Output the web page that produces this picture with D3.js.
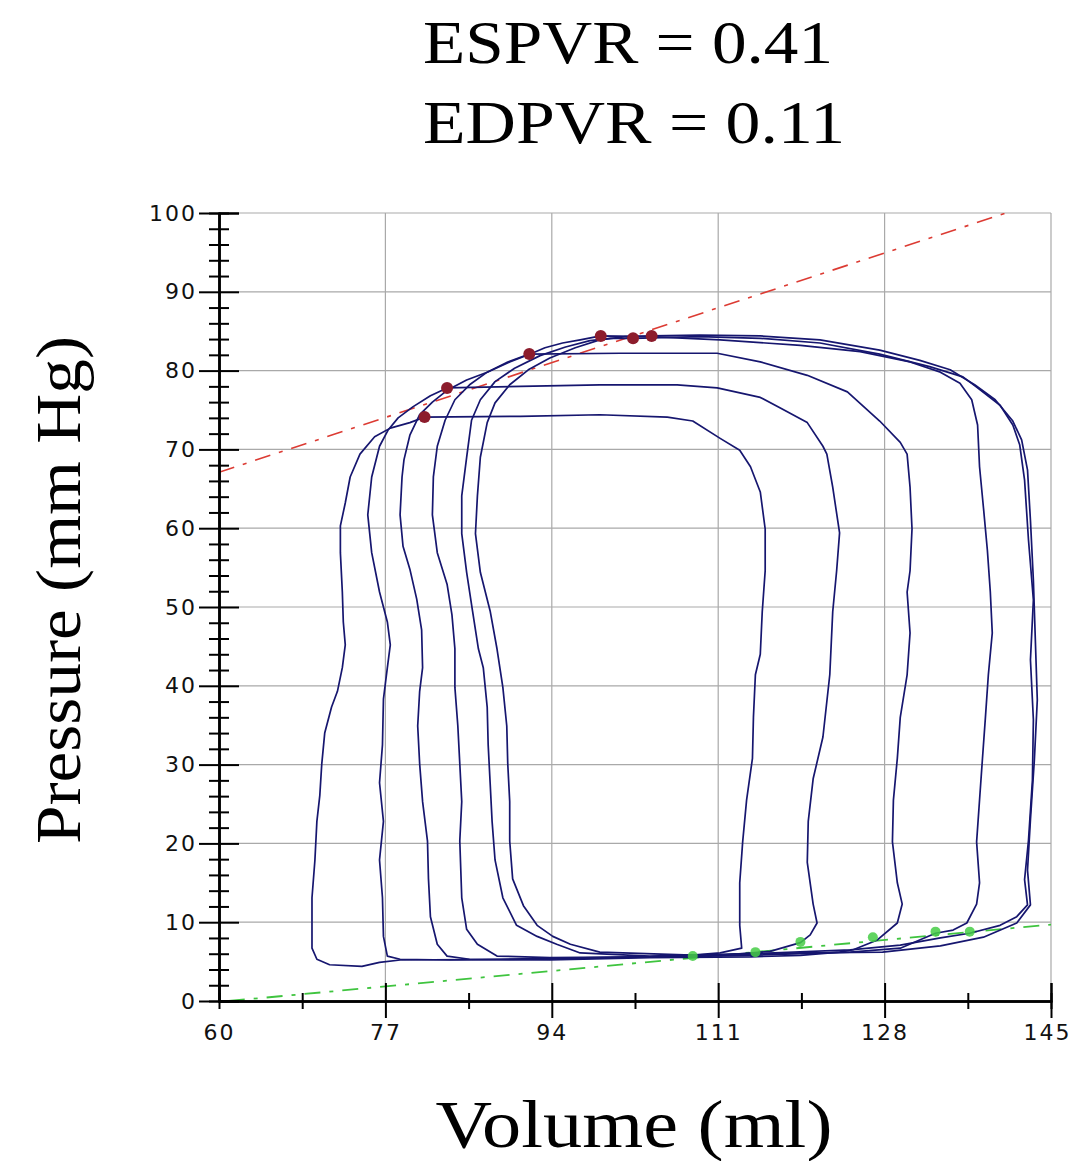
<!DOCTYPE html>
<html>
<head>
<meta charset="utf-8">
<script src="https://cdn.jsdelivr.net/npm/d3@7"></script>
<style>
body { margin: 0; background: #fff; }
svg { display: block; }
</style>
</head>
<body>
<div id="chart"></div>
<script>
// PV loops, [volume (ml), pressure (mm Hg)], traced counter-clockwise from bottom-left
const loop1 = [[70.0,5.3],[71.3,4.6],[74.6,4.4],[76.4,4.9],[78.5,5.2],[88.7,5.3],[98.9,5.5],[107.1,5.7],[111.2,6.1],[113.4,6.7],
  [113.2,9.6],[113.2,15.0],[113.5,20.2],[113.9,25.5],[114.5,30.8],[114.6,36.0],[114.8,41.4],[115.3,44.0],[115.5,49.4],[115.8,54.6],
  [115.8,59.9],[115.3,64.6],[114.3,67.8],[113.2,69.9],[111.2,71.4],[108.4,73.6],[105.8,74.1],[98.9,74.4],[90.8,74.2],[81.0,74.1],
  [79.5,73.4],[77.5,72.7],[75.9,71.6],[74.4,69.4],[73.4,66.5],[72.9,63.2],[72.4,60.3],[72.4,56.9],[72.6,51.9],[72.7,48.1],
  [72.9,45.2],[72.6,42.3],[72.1,39.3],[71.5,37.3],[70.8,34.0],[70.5,30.1],[70.3,26.1],[70.0,22.8],[69.8,17.9],[69.5,13.1],[69.5,6.7]];

const loop2 = [[77.2,5.7],[78.5,5.3],[83.6,5.2],[93.8,5.3],[104.0,5.6],[111.2,5.8],[116.3,6.3],[119.4,7.4],
  [120.4,8.4],[121.1,9.9],[120.7,12.3],[120.1,17.6],[120.2,22.8],[120.7,28.2],[121.7,33.5],[122.4,41.4],[122.7,49.4],[123.1,54.6],
  [123.4,59.4],[122.7,65.2],[122.1,69.4],[121.7,70.4],[120.1,73.4],[117.3,75.3],[115.3,76.6],[110.9,77.8],[106.8,78.2],[98.9,78.2],
  [90.8,78.0],[83.3,77.8],[81.6,76.8],[79.8,75.4],[78.3,74.0],[77.3,72.5],[76.4,70.4],[75.6,66.5],[75.2,61.7],[75.6,56.9],
  [76.4,51.9],[77.2,48.1],[77.5,45.2],[77.2,42.3],[76.8,38.3],[76.7,32.5],[76.4,27.7],[76.8,22.8],[76.4,17.9],[76.7,13.1],[76.8,8.2]];

const loop3 = [[82.3,7.2],[83.3,5.7],[85.6,5.3],[93.8,5.2],[104.0,5.5],[114.3,5.6],[119.4,5.8],[123.4,6.2],[124.8,6.5],[127.2,7.7],
  [129.3,9.9],[129.8,12.3],[129.3,15.0],[128.8,20.2],[128.9,25.5],[129.3,30.8],[129.6,36.0],[130.3,41.4],[130.6,46.7],[130.3,51.9],
  [130.6,54.6],[130.8,59.9],[130.6,65.2],[130.3,69.4],[129.6,70.9],[127.5,73.6],[124.2,77.3],[120.1,79.4],[115.3,81.1],[110.9,82.2],
  [101.0,82.2],[91.7,82.1],[89.5,81.1],[87.4,79.8],[85.3,78.8],[83.3,77.5],[81.8,76.0],[80.5,74.4],[79.5,71.8],[78.9,68.7],
  [78.7,66.5],[78.5,61.7],[78.8,57.7],[79.5,54.8],[80.2,51.0],[80.7,47.1],[80.8,42.3],[80.5,39.3],[80.3,34.9],[80.5,30.1],
  [80.8,25.3],[81.3,20.3],[81.4,15.5],[81.6,10.7]];

const loop4 = [[86.4,7.2],[88.4,5.7],[93.8,5.5],[104.0,5.6],[114.3,5.8],[124.5,6.2],[129.6,6.7],[133.2,8.6],
  [135.0,9.0],[136.4,9.9],[137.4,12.3],[137.7,15.0],[137.4,20.2],[137.7,25.5],[138.0,30.8],[138.3,36.0],[138.6,41.4],[139.0,46.7],
  [138.8,51.9],[138.5,57.2],[138.1,62.6],[137.7,67.8],[137.5,73.1],[136.9,76.3],[135.7,78.4],[133.7,79.8],[130.6,81.1],[125.5,82.4],
  [119.4,83.2],[111.2,83.9],[104.0,84.3],[99.0,84.4],[96.9,83.9],[95.1,83.5],[93.3,82.9],[91.8,82.1],[89.7,81.1],[87.4,79.8],
  [85.6,78.2],[84.1,76.3],[83.1,73.7],[82.3,70.4],[81.9,66.5],[81.8,61.7],[82.3,56.9],[83.3,52.9],[83.8,49.0],[84.1,44.7],
  [84.1,39.8],[84.4,34.9],[84.6,30.1],[84.8,25.3],[84.6,20.3],[84.8,13.1],[85.3,9.1]];

const loop5 = [[92.5,8.2],[94.5,7.2],[96.9,6.1],[104.0,5.7],[114.3,6.0],[124.5,6.5],[129.6,7.1],[133.7,8.0],[136.7,8.6],[139.8,9.6],
  [141.5,10.7],[142.6,12.2],[142.3,15.4],[142.7,20.4],[143.1,28.0],[143.2,35.7],[142.9,43.3],[143.2,50.9],[142.7,58.5],[142.3,66.1],
  [141.8,70.6],[141.1,73.1],[139.8,75.6],[137.4,77.9],[136.0,79.2],[132.6,80.5],[127.5,82.1],[121.4,83.5],[115.3,84.1],[109.1,84.3],
  [102.3,84.1],[100.0,84.1],[97.9,83.8],[95.4,83.0],[92.8,81.9],[90.2,80.3],[88.2,78.6],[86.7,76.3],[85.8,73.7],[85.3,69.0],
  [84.8,64.1],[84.8,59.3],[85.3,54.4],[85.9,49.5],[86.5,44.7],[87.0,42.3],[87.4,37.3],[87.5,32.5],[87.7,27.7],[87.9,22.8],
  [88.2,17.9],[89.0,13.1],[90.4,9.6]];

const loop6 = [[94.1,8.2],[95.9,7.2],[98.9,6.2],[109.1,5.8],[119.4,6.1],[127.8,6.2],[133.7,7.0],[138.1,8.1],[141.5,9.9],[142.9,12.2],
  [142.6,16.6],[142.9,23.0],[143.3,30.6],[143.6,38.2],[143.4,45.8],[143.2,53.4],[142.9,61.0],[142.6,67.4],[142.0,71.2],[141.1,73.6],
  [139.3,76.3],[137.2,78.2],[134.7,80.1],[131.6,81.3],[127.5,82.6],[121.4,83.9],[115.3,84.4],[109.1,84.5],[104.2,84.4],[101.5,84.3],
  [98.9,83.9],[96.4,82.9],[93.8,81.6],[91.6,80.1],[89.7,78.2],[88.2,75.9],[87.4,73.4],[86.7,69.0],[86.4,64.1],[86.2,59.3],
  [86.7,54.4],[87.7,49.5],[88.4,44.7],[89.0,39.8],[89.4,34.9],[89.5,30.1],[89.7,25.3],[89.7,20.3],[90.0,15.5],[91.1,12.1],[92.5,9.6]];

const loops = [loop1, loop2, loop3, loop4, loop5, loop6];

// end-systolic and end-diastolic points
const esPoints = [[81.0,74.1],[83.3,77.8],[91.7,82.1],[99.0,84.4],[102.3,84.1],[104.2,84.4]];
const edPoints = [[108.4,5.7],[114.8,6.2],[119.4,7.5],[126.8,8.1],[133.2,8.8],[136.7,8.8]];

// fitted relations (end points of the dashed lines)
const espvrLine = [[60,67.1],[140.4,100]];
const edpvrLine = [[61,0],[145,9.7]];

const xTicks = [60, 77, 94, 111, 128, 145];
const xMinor = [68.5, 85.5, 102.5, 119.5, 136.5];
const yTicks = [0, 10, 20, 30, 40, 50, 60, 70, 80, 90, 100];
const yMinor = d3.range(2, 100, 2).filter(v => v % 10 !== 0);

const titleLines = ["ESPVR = 0.41", "EDPVR = 0.11"];
const xLabel = "Volume (ml)";
const yLabel = "Pressure (mm Hg)";

const W = 1072, H = 1161;
const x = d3.scaleLinear().domain([60, 145]).range([219, 1051]);
const y = d3.scaleLinear().domain([0, 100]).range([1001, 213]);

const svg = d3.select("#chart").append("svg")
  .attr("width", W).attr("height", H);

svg.append("rect").attr("width", W).attr("height", H).attr("fill", "#fff");

svg.append("clipPath").attr("id", "plot")
  .append("rect")
  .attr("x", x(60)).attr("y", y(100))
  .attr("width", x(145) - x(60)).attr("height", y(0) - y(100));

// grid
const grid = svg.append("g").attr("stroke", "#a9a9a9").attr("stroke-width", 1.2);
grid.selectAll(".gx").data(xTicks.slice(1)).join("line")
  .attr("x1", d => x(d)).attr("x2", d => x(d))
  .attr("y1", y(100)).attr("y2", y(0));
grid.selectAll(".gy").data(yTicks.slice(1)).join("line")
  .attr("x1", x(60)).attr("x2", x(145))
  .attr("y1", d => y(d)).attr("y2", d => y(d));

// dashed ESPVR / EDPVR lines
const line = d3.line().x(d => x(d[0])).y(d => y(d[1]));
svg.append("path").datum(espvrLine)
  .attr("clip-path", "url(#plot)")
  .attr("d", line).attr("fill", "none")
  .attr("stroke", "#dc3b33").attr("stroke-width", 1.6)
  .attr("stroke-dasharray", "16,9,4,9");
svg.append("path").datum(edpvrLine)
  .attr("clip-path", "url(#plot)")
  .attr("d", line).attr("fill", "none")
  .attr("stroke", "#3fc43f").attr("stroke-width", 1.8)
  .attr("stroke-dasharray", "16,9,4,9");

// loops
svg.append("g").selectAll("path").data(loops).join("path")
  .attr("d", d => line(d) + "Z")
  .attr("fill", "none")
  .attr("stroke", "#16166f")
  .attr("stroke-width", 1.7)
  .attr("stroke-linejoin", "round");

// markers
svg.append("g").selectAll("circle").data(edPoints).join("circle")
  .attr("cx", d => x(d[0])).attr("cy", d => y(d[1])).attr("r", 5)
  .attr("fill", "#45cc45").attr("fill-opacity", 0.85);
svg.append("g").selectAll("circle").data(esPoints).join("circle")
  .attr("cx", d => x(d[0])).attr("cy", d => y(d[1])).attr("r", 6)
  .attr("fill", "#8c1c2c");

// axes
const tickFont = g => g.selectAll("text")
  .attr("font-family", "DejaVu Sans, sans-serif")
  .attr("font-size", 22).attr("letter-spacing", "2px").attr("fill", "#111");

const axisStyle = g => {
  g.select(".domain").attr("stroke", "#000").attr("stroke-width", 2);
  g.selectAll(".tick line").attr("stroke", "#000").attr("stroke-width", 2);
};

// y: major ticks both sides of the line, minor ticks crossing it
svg.append("g").attr("transform", `translate(${x(60)},0)`)
  .call(d3.axisRight(y).tickValues(yTicks).tickSize(20).tickFormat(""))
  .call(axisStyle);
svg.append("g").attr("transform", `translate(${x(60)},0)`)
  .call(d3.axisLeft(y).tickValues(yMinor).tickSize(10).tickFormat(""))
  .call(axisStyle);
svg.append("g").attr("transform", `translate(${x(60)},0)`)
  .call(d3.axisRight(y).tickValues(yMinor).tickSize(10).tickFormat(""))
  .call(axisStyle);
svg.append("g").attr("transform", `translate(${x(60)},0)`)
  .call(d3.axisLeft(y).tickValues(yTicks).tickSize(20).tickPadding(2).tickSizeOuter(0))
  .call(axisStyle).call(tickFont);

// x
svg.append("g").attr("transform", `translate(0,${y(0)})`)
  .call(d3.axisTop(x).tickValues(xTicks.slice(1)).tickSize(18).tickFormat(""))
  .call(axisStyle);
svg.append("g").attr("transform", `translate(0,${y(0)})`)
  .call(d3.axisTop(x).tickValues(xMinor).tickSize(8).tickFormat(""))
  .call(axisStyle);
svg.append("g").attr("transform", `translate(0,${y(0)})`)
  .call(d3.axisBottom(x).tickValues(xMinor).tickSize(8).tickFormat(""))
  .call(axisStyle);
svg.append("g").attr("transform", `translate(0,${y(0)})`)
  .call(d3.axisBottom(x).tickValues(xTicks).tickSize(17).tickPadding(6).tickSizeOuter(0))
  .call(axisStyle).call(tickFont)
  .call(g => g.selectAll(".tick").filter(d => d === 60).select("line").remove())
  // keep the last label inside the page
  .call(g => g.selectAll(".tick").filter(d => d === 145).select("text")
    .attr("text-anchor", "end").attr("x", W - 1 - x(145)));

// titles and axis labels
const serif = "Liberation Serif, Times New Roman, serif";
svg.append("text").attr("x", 628).attr("y", 63)
  .attr("text-anchor", "middle").attr("font-family", serif).attr("font-size", 62)
  .attr("textLength", 410).attr("lengthAdjust", "spacingAndGlyphs")
  .text(titleLines[0]);
svg.append("text").attr("x", 634).attr("y", 143)
  .attr("text-anchor", "middle").attr("font-family", serif).attr("font-size", 62)
  .attr("textLength", 422).attr("lengthAdjust", "spacingAndGlyphs")
  .text(titleLines[1]);
svg.append("text").attr("x", 634).attr("y", 1147)
  .attr("text-anchor", "middle").attr("font-family", serif).attr("font-size", 68)
  .attr("textLength", 397).attr("lengthAdjust", "spacingAndGlyphs")
  .text(xLabel);
svg.append("text").attr("transform", "translate(80,590) rotate(-90)")
  .attr("text-anchor", "middle").attr("font-family", serif).attr("font-size", 64)
  .attr("textLength", 508).attr("lengthAdjust", "spacingAndGlyphs")
  .text(yLabel);
</script>
</body>
</html>
